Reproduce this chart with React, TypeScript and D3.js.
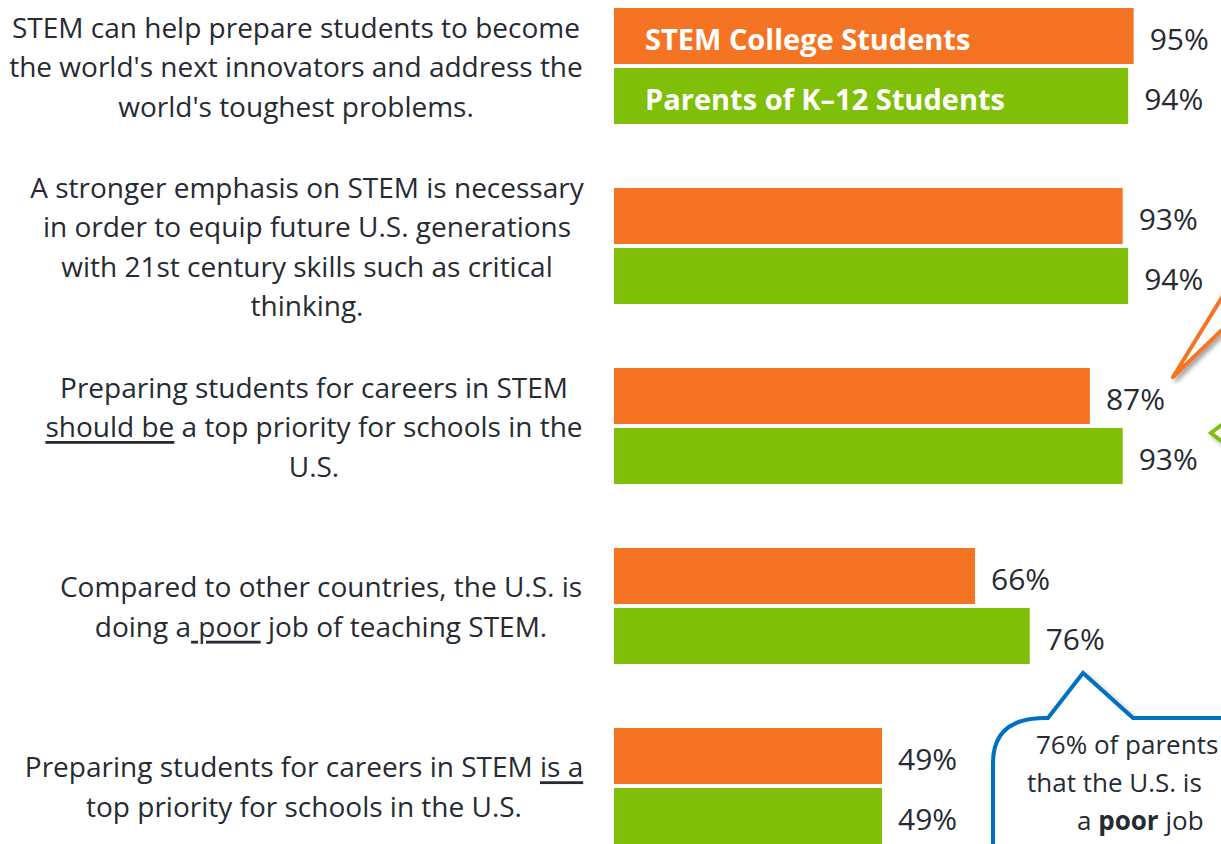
import { useEffect, useRef } from "react";
import * as d3 from "d3";

// survey statements, "_" marks underlined words
const statements = [
  ["STEM can help prepare students to become", "the world's next innovators and address the", "world's toughest problems."],
  ["A stronger emphasis on STEM is necessary", "in order to equip future U.S. generations", "with 21st century skills such as critical", "thinking."],
  ["Preparing students for careers in STEM", "_should be_ a top priority for schools in the", "U.S."],
  ["Compared to other countries, the U.S. is", "doing a_ poor_ job of teaching STEM."],
  ["Preparing students for careers in STEM _is a_", "top priority for schools in the U.S."],
];
const seriesNames = ["STEM College Students", "Parents of K–12 Students"];
const collegeValues = [95, 93, 87, 66, 49];
const parentValues = [94, 94, 93, 76, 49];
const bubbleLines = ["76% of parents", "that the U.S. is", "a _poor_ job"];

const labelCenters = [296, 307, 314, 321, 304];
const colors = ["#f47424", "#7fbf08"];
const textColor = "#262b33";
const font = "'Open Sans', sans-serif";

const addSegments = (text, str, bold) => {
  str.split("_").forEach((part, i) => {
    if (!part) return;
    const t = text.append("tspan").text(part);
    if (i % 2 === 1) {
      if (bold) t.attr("font-weight", "bold");
      else t.attr("text-decoration", "underline");
    }
  });
};

const App = () => {
  const ref = useRef(null);

  useEffect(() => {
    const width = 1221;
    const height = 844;
    const root = d3.select(ref.current);
    root.selectAll("*").remove();

    const svg = root
      .append("svg")
      .attr("width", width)
      .attr("height", height)
      .style("position", "absolute")
      .style("left", 0)
      .style("top", 0)
      .style("background", "#fff");

    const defs = svg.append("defs");
    const f = defs.append("filter").attr("id", "shadow").attr("x", "-50%").attr("y", "-50%").attr("width", "200%").attr("height", "200%");
    f.append("feDropShadow").attr("dx", 3).attr("dy", 3).attr("stdDeviation", 2).attr("flood-color", "#000").attr("flood-opacity", 0.35);

    const idx = statements.map((_, i) => i);
    const yGroup = d3.scaleBand().domain(idx).range([8, 844]).paddingInner(64 / 180).paddingOuter(0);
    const ySeries = d3.scaleBand().domain([0, 1]).range([0, yGroup.bandwidth()]).paddingInner(4 / 60);
    const x = d3.scaleLinear().domain([0, 100]).range([614, 1161]);

    const rows = idx.map((i) => ({ i, values: [collegeValues[i], parentValues[i]] }));

    const g = svg
      .selectAll("g.row")
      .data(rows)
      .enter()
      .append("g")
      .attr("class", "row")
      .attr("transform", (d) => `translate(0,${yGroup(d.i)})`);

    g.selectAll("rect")
      .data((d) => d.values.map((v, s) => ({ v, s })))
      .enter()
      .append("rect")
      .attr("x", x(0))
      .attr("y", (d) => ySeries(d.s))
      .attr("width", (d) => x(d.v) - x(0))
      .attr("height", ySeries.bandwidth())
      .attr("fill", (d) => colors[d.s]);

    g.selectAll("text.pct")
      .data((d) => d.values.map((v, s) => ({ v, s })))
      .enter()
      .append("text")
      .attr("class", "pct")
      .attr("x", (d) => x(d.v) + 16)
      .attr("y", (d) => ySeries(d.s) + ySeries.bandwidth() / 2 + 2)
      .attr("dominant-baseline", "central")
      .attr("font-family", font)
      .attr("font-size", 30)
      .attr("fill", textColor)
      .text((d) => `${d.v}%`);

    // legend inside the first pair of bars
    seriesNames.forEach((name, s) => {
      svg
        .append("text")
        .attr("x", 645)
        .attr("y", yGroup(0) + ySeries(s) + ySeries.bandwidth() / 2 + 2)
        .attr("dominant-baseline", "central")
        .attr("font-family", font)
        .attr("font-weight", "bold")
        .attr("font-size", 29)
        .attr("fill", "#fff")
        .text(name);
    });

    // statements on the left
    const lineH = 39.5;
    statements.forEach((lines, i) => {
      const cy = yGroup(i) + yGroup.bandwidth() / 2;
      lines.forEach((line, k) => {
        const t = svg
          .append("text")
          .attr("x", labelCenters[i])
          .attr("y", cy + (k - (lines.length - 1) / 2) * lineH)
          .attr("text-anchor", "middle")
          .attr("dominant-baseline", "central")
          .attr("font-family", font)
          .attr("font-size", 28)
          .attr("fill", textColor);
        addSegments(t, line, false);
      });
    });

    // callout pointers on the right edge
    svg
      .append("path")
      .attr("d", "M1224,294 L1173,377 L1224,328")
      .attr("fill", "#fff")
      .attr("stroke", colors[0])
      .attr("stroke-width", 4)
      .attr("stroke-linejoin", "round")
      .attr("stroke-linecap", "round")
      .attr("filter", "url(#shadow)");

    svg
      .append("path")
      .attr("d", "M1224,423 L1211,433 L1224,443")
      .attr("fill", "#fff")
      .attr("stroke", colors[1])
      .attr("stroke-width", 4)
      .attr("stroke-linejoin", "miter")
      .attr("filter", "url(#shadow)");

    // blue speech bubble
    svg
      .append("path")
      .attr("d", "M993,850 L993,763 Q993,718 1045,718 L1048,718 L1083,673 L1133,718 L1226,718 L1226,850 Z")
      .attr("fill", "#fff")
      .attr("stroke", "#0070c0")
      .attr("stroke-width", 4)
      .attr("stroke-linejoin", "miter")
      .attr("filter", "url(#shadow)");

    const bubbleX = [1036, 1027, 1077];
    bubbleLines.forEach((line, k) => {
      const t = svg
        .append("text")
        .attr("x", bubbleX[k])
        .attr("y", 744 + k * 38)
        .attr("dominant-baseline", "central")
        .attr("font-family", font)
        .attr("font-size", 26)
        .attr("fill", textColor);
      addSegments(t, line, true);
    });
  }, []);

  return <div ref={ref}></div>;
};

export default App;
